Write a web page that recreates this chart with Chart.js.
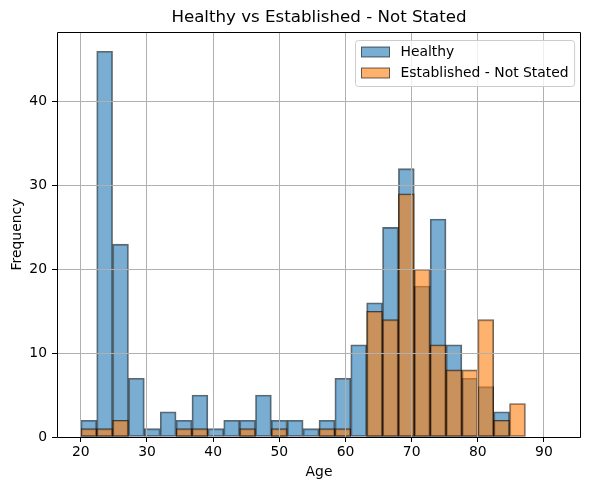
<!DOCTYPE html>
<html>
<head>
<meta charset="utf-8">
<script src="https://cdn.jsdelivr.net/npm/chart.js@4/dist/chart.umd.min.js"></script>
<style>
html,body{margin:0;padding:0;background:#fff;}
#wrap{width:590px;height:490px;}
</style>
</head>
<body>
<div id="wrap"><canvas id="c" width="590" height="490"></canvas></div>
<script>
// ---- data ----
const binEdges = [20,22.4,24.8,27.2,29.6,32,34.4,36.8,39.2,41.6,44,46.4,48.8,51.2,53.6,56,58.4,60.8,63.2,65.6,68,70.4,72.8,75.2,77.6,80,82.4,84.8,87.2,89.6,92];
const healthy = [2,46,23,7,1,3,2,5,1,2,2,5,2,2,1,2,7,11,16,25,32,18,26,11,7,6,3,0,0,0];
const established = [1,1,2,0,0,0,1,1,0,0,1,0,1,0,0,1,1,0,15,14,29,20,11,8,8,14,2,4];
const seriesLabels = ['Healthy', 'Established - Not Stated'];
const xTicks = [20,30,40,50,60,70,80,90];
const yTicks = [0,10,20,30,40];
const titleText = 'Healthy vs Established - Not Stated';
const xTitle = 'Age';
const yTitle = 'Frequency';

const FONT = 'DejaVu Sans';
const FS = 13.9;

function toPoints(counts){
  return counts.map((v,i)=>({x:(binEdges[i]+binEdges[i+1])/2, y:v}));
}

Chart.defaults.font.family = FONT;
Chart.defaults.font.size = FS;
Chart.defaults.color = '#000';

const axesTitlePlugin = {
  id:'axesTitle',
  afterDraw(chart){
    const {ctx, chartArea:a} = chart;
    ctx.save();
    ctx.font = '16.67px "' + FONT + '"';
    ctx.fillStyle = '#000';
    ctx.textAlign = 'center';
    ctx.textBaseline = 'middle';
    ctx.fillText(titleText, (a.left + a.right)/2, a.top - 14.5);
    ctx.restore();
  }
};

const framePlugin = {
  id:'frame',
  afterDraw(chart){
    const {ctx, chartArea:a} = chart;
    ctx.save();
    ctx.strokeStyle = '#000';
    ctx.lineWidth = 1;
    const l = Math.round(a.left)+0.5, t = Math.round(a.top)+0.5;
    const r = Math.round(a.right)-0.5, b = Math.round(a.bottom)+0.5;
    ctx.beginPath();
    ctx.moveTo(l,t); ctx.lineTo(r,t); ctx.lineTo(r,b); ctx.lineTo(l,b); ctx.closePath();
    ctx.stroke();
    ctx.restore();
  }
};

const legendPlugin = {
  id:'boxLegend',
  afterDraw(chart){
    const {ctx, chartArea:a} = chart;
    const ds = chart.data.datasets;
    ctx.save();
    ctx.font = FS + 'px "' + FONT + '"';
    const tw = Math.max(...ds.map(d=>ctx.measureText(d.label).width));
    const w = 45 + tw + 6, h = 46;
    const x0 = Math.round(a.right - 7 - w) + 0.5, y0 = Math.round(a.top + 7.5) + 0.5;
    const rr = 3;
    ctx.beginPath();
    ctx.moveTo(x0+rr,y0); ctx.lineTo(x0+w-rr,y0); ctx.arcTo(x0+w,y0,x0+w,y0+rr,rr);
    ctx.lineTo(x0+w,y0+h-rr); ctx.arcTo(x0+w,y0+h,x0+w-rr,y0+h,rr);
    ctx.lineTo(x0+rr,y0+h); ctx.arcTo(x0,y0+h,x0,y0+h-rr,rr);
    ctx.lineTo(x0,y0+rr); ctx.arcTo(x0,y0,x0+rr,y0,rr); ctx.closePath();
    ctx.fillStyle = 'rgba(255,255,255,0.8)';
    ctx.fill();
    ctx.strokeStyle = '#cccccc';
    ctx.lineWidth = 1;
    ctx.stroke();
    ds.forEach((d,i)=>{
      const py = y0 + 6.5 + i*21;
      ctx.fillStyle = '#fff';
      ctx.fillRect(x0+6, py, 28, 10);
      ctx.fillStyle = d.backgroundColor;
      ctx.fillRect(x0+6, py, 28, 10);
      ctx.strokeStyle = d.borderColor;
      ctx.strokeRect(x0+6, py, 28, 10);
      ctx.fillStyle = '#000';
      ctx.textBaseline = 'middle';
      ctx.textAlign = 'left';
      ctx.fillText(d.label, x0+45, y0 + 12 + i*21);
    });
    ctx.restore();
  }
};

new Chart(document.getElementById('c'), {
  type:'bar',
  data:{
    datasets:[
      {label:seriesLabels[0], data:toPoints(healthy), backgroundColor:'rgba(31,119,180,0.6)', borderColor:'rgba(0,0,0,0.6)', borderWidth:1.2, borderSkipped:false, order:2},
      {label:seriesLabels[1], data:toPoints(established), backgroundColor:'rgba(255,127,14,0.6)', borderColor:'rgba(0,0,0,0.6)', borderWidth:1.2, borderSkipped:false, order:1}
    ]
  },
  options:{
    responsive:false,
    devicePixelRatio:1,
    animation:false,
    grouped:false,
    barPercentage:1,
    categoryPercentage:1,
    layout:{padding:{left:0,right:9,top:32,bottom:0}},
    plugins:{
      legend:{display:false},
      tooltip:{enabled:false},
      title:{display:false}
    },
    scales:{
      x:{
        type:'linear', offset:false, min:16.4, max:95.6,
        afterBuildTicks:s=>{s.ticks = xTicks.map(v=>({value:v}));},
        afterFit:s=>{s.height = 53;},
        grid:{z:1, offset:false, color:'#b0b0b0', lineWidth:1, tickColor:'#000', tickLength:5, drawTicks:true},
        border:{display:false},
        ticks:{padding:2, color:'#000', maxRotation:0, autoSkip:false},
        title:{display:true, text:xTitle, color:'#000', font:{size:FS}, padding:{top:0,bottom:9.7}}
      },
      y:{
        type:'linear', min:0, max:48.3,
        afterBuildTicks:s=>{s.ticks = yTicks.map(v=>({value:v}));},
        afterFit:s=>{s.width = 57;},
        grid:{z:1, color:'#b0b0b0', lineWidth:1, tickColor:'#000', tickLength:5, drawTicks:true},
        border:{display:false},
        ticks:{padding:5, color:'#000'},
        title:{display:true, text:yTitle, color:'#000', font:{size:FS}, padding:{top:8.7,bottom:0}}
      }
    }
  },
  plugins:[axesTitlePlugin, framePlugin, legendPlugin]
});
</script>
</body>
</html>
